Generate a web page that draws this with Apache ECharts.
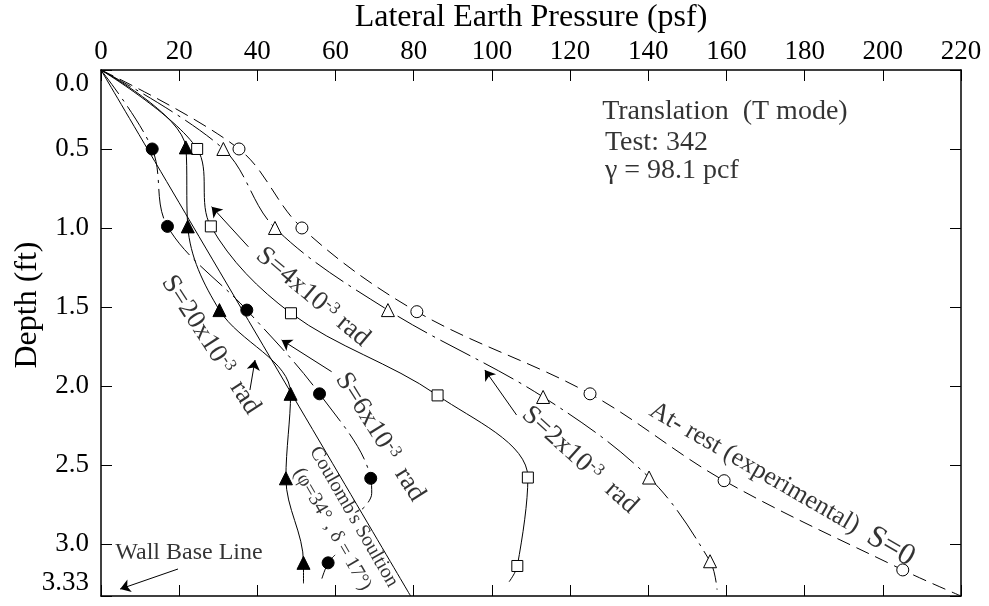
<!DOCTYPE html>
<html><head><meta charset="utf-8">
<script src="https://cdn.jsdelivr.net/npm/echarts@6/dist/echarts.min.js"></script>
<style>html,body{margin:0;padding:0;background:#fff}#c{width:989px;height:606px}</style>
</head><body><div id="c"></div>
<script>
const FONT = '"Liberation Serif","Times New Roman",serif';

// tick labels
const xTickValues = [0,20,40,60,80,100,120,140,160,180,200,220];
const xTickLabels = ['0','20','40','60','80','100','120','140','160','180','200','220'];
const yTickValues = [0,0.5,1,1.5,2,2.5,3,3.33];
const yTickLabels = ['0.0','0.5','1.0','1.5','2.0','2.5','3.0','3.33'];

// data: [lateral earth pressure (psf), depth (ft)]
const origin = [[0,0]];
const atRestMarkers = [[35.3,0.5],[51.4,1.0],[80.8,1.53],[125.1,2.05],[159.4,2.60],[205.1,3.165]];
const atRestTail = [[220,3.33]];
const s2Markers = [[31.3,0.5],[44.5,1.0],[73.4,1.52],[113.1,2.07],[140.2,2.58],[155.8,3.11]];
const s2Tail = [[157.6,3.29]];
const s4Markers = [[24.6,0.5],[28.1,0.99],[48.6,1.54],[86.1,2.06],[109.2,2.58],[106.5,3.14]];
const s4Tail = [[104.4,3.24]];
const s6Markers = [[13.1,0.5],[17.0,0.99],[37.3,1.52],[55.9,2.05],[69.0,2.585],[58.1,3.12]];
const s6MidTrace = [[69.25,2.68],[68.0,2.75],[66.3,2.79]];
const s6LowTrace = [[59.9,3.07]];
const s6Tail = [[56.5,3.22]];
const s20Markers = [[21.7,0.49],[22.2,0.99],[30.3,1.52],[48.5,2.05],[47.3,2.585],[51.8,3.12]];
const s20Tail = [[51.8,3.25]];
const coulombLine = [[0,0],[79.2,3.33]];

// annotation arrows: [tail, head]
const arrows = [
  [[37.7,1.119],[28.3,0.865]],
  [[106.3,2.184],[98.2,1.899]],
  [[59.0,1.910],[46.2,1.709]],
  [[38.1,2.026],[39.4,1.836]],
  [[19.7,3.159],[4.9,3.286]]
];

const GAP = ['-','-'];
const atRestPath = origin.concat(atRestMarkers, atRestTail);
const s2Path = origin.concat(s2Markers, s2Tail);
const s4Path = origin.concat(s4Markers, s4Tail);
const s6Path = origin.concat(s6Markers.slice(0,5), s6MidTrace, [GAP], s6LowTrace, s6Markers.slice(5), s6Tail);
const s20Path = origin.concat(s20Markers, s20Tail);

const RICH = {
  n: {fontFamily: FONT, fontSize: 27, color: '#000'},
  s: {fontFamily: FONT, fontSize: 17, color: '#000', verticalAlign: 'top'},
  m: {fontFamily: FONT, fontSize: 26, color: '#000'},
  b: {fontFamily: FONT, fontSize: 31, color: '#000'},
  c: {fontFamily: FONT, fontSize: 20, color: '#000', lineHeight: 25, align: 'center'},
  w: {fontFamily: FONT, fontSize: 24, color: '#000'},
  t: {fontFamily: FONT, fontSize: 28, color: '#000'}
};

const notes = [
  {at:[128.2,0.266], text:'{t|Translation  (T mode)}', align:'left', rot:0},
  {at:[128.9,0.462], text:'{t|Test: 342}', align:'left', rot:0},
  {at:[128.9,0.639], text:'{t|\u03b3 = 98.1 pcf}', align:'left', rot:0},
  {at:[54.2,1.437], text:'{n|S=4x10}{s|-3}{n| rad}', align:'center', rot:-40},
  {at:[122.5,2.469], text:'{n|S=2x10}{s|-3}{n|  rad}', align:'center', rot:-42},
  {at:[71.4,2.323], text:'{n|S=6x10}{s|-3}{n|  rad}', align:'center', rot:-58},
  {at:[28.1,1.741], text:'{n|S=20x10}{s|-3}{n|  rad}', align:'center', rot:-57},
  {at:[174.2,2.621], text:'{m|At- rest (experimental)  }{b|S=0}', align:'center', rot:-30},
  {at:[61.9,2.868], text:"{c|Coulomb's Soultion}\n{c|(\u03c6=34\u00b0 , \u03b4 = 17\u00b0)}", align:'center', rot:-60},
  {at:[22.5,3.058], text:'{w|Wall Base Line}', align:'center', rot:0}
];

function lineSeries(data, dash) {
  return {type:'line', data:data, symbol:'none', showSymbol:false, smooth:0.35, connectNulls:false,
    lineStyle:{color:'#000', width:1, type:dash}, silent:true, z:2, animation:false};
}
function markerSeries(data, symbol, filled, size) {
  return {type:'scatter', data:data, symbol:symbol, symbolSize:size, silent:true, z:5, animation:false,
    itemStyle:{color: filled ? '#000' : '#fff', borderColor:'#000', borderWidth:1, opacity:1}};
}

const axisLineStyle = {color:'#000', width:1.5};
const option = {
  animation: false,
  backgroundColor: '#fff',
  grid: {left:101, right:28, top:70, bottom:10, containLabel:false, outerBoundsMode:'none'},
  xAxis: [
    {type:'value', position:'top', min:0, max:220, interval:20,
     name:'Lateral Earth Pressure (psf)', nameLocation:'middle', nameGap:30,
     nameTextStyle:{fontFamily:FONT, fontSize:32, color:'#000'},
     axisLine:{show:true, onZero:false, lineStyle:axisLineStyle},
     axisTick:{show:true, inside:true, length:11, lineStyle:{color:'#000', width:1}},
     axisLabel:{show:true, margin:5, fontFamily:FONT, fontSize:27, color:'#000',
       formatter: v => { const i = xTickValues.indexOf(v); return i >= 0 ? xTickLabels[i] : String(v); }},
     splitLine:{show:false}},
    {type:'value', position:'bottom', min:0, max:220, interval:20,
     axisLine:{show:true, onZero:false, lineStyle:axisLineStyle},
     axisTick:{show:true, inside:true, length:11, lineStyle:{color:'#000', width:1}},
     axisLabel:{show:false}, splitLine:{show:false}}
  ],
  yAxis: [
    {type:'value', inverse:true, min:0, max:3.33, interval:0.5,
     axisLine:{show:true, onZero:false, lineStyle:axisLineStyle},
     axisTick:{show:true, inside:true, length:11, lineStyle:{color:'#000', width:1}},
     axisLabel:{show:true, margin:12, fontFamily:FONT, fontSize:27, color:'#000',
       verticalAlignMinLabel:'top', verticalAlignMaxLabel:'bottom',
       formatter: v => { let best = 0; yTickValues.forEach((t,i)=>{ if (Math.abs(t-v) < Math.abs(yTickValues[best]-v)) best = i; }); return yTickLabels[best]; }},
     splitLine:{show:false}},
    {type:'value', position:'right', inverse:true, min:0, max:3.33, interval:0.5,
     axisLine:{show:true, onZero:false, lineStyle:axisLineStyle},
     axisTick:{show:true, inside:true, length:11, lineStyle:{color:'#000', width:1}},
     axisLabel:{show:false}, splitLine:{show:false}}
  ],
  graphic: [
    {type:'text', x:28, y:305, rotation:Math.PI/2, silent:true,
     style:{text:'Depth (ft)', font:'32px "Liberation Serif", serif', fill:'#000',
       textAlign:'center', textVerticalAlign:'middle', align:'center', verticalAlign:'middle'}}
  ],
  series: [
    lineSeries(coulombLine, 'solid'),
    lineSeries(atRestPath, [14,7]),
    lineSeries(s2Path, [34,6,3,6]),
    lineSeries(s4Path, 'solid'),
    lineSeries(s6Path, [30,6,3,6]),
    lineSeries(s20Path, 'solid'),
    markerSeries(atRestMarkers, 'circle', false, 12),
    markerSeries(s2Markers, 'triangle', false, 13),
    markerSeries(s4Markers, 'rect', false, 11),
    markerSeries(s6Markers, 'circle', true, 12),
    markerSeries(s20Markers, 'triangle', true, 13),
    {type:'scatter', silent:true, z:6, animation:false, symbol:'circle', symbolSize:1,
     itemStyle:{color:'rgba(0,0,0,0)'},
     data: notes.map(n => ({value:n.at, label:{show:true, position:'inside', formatter:n.text, rich:RICH,
       rotate:n.rot, align:n.align, verticalAlign:'middle'}})),
     markLine:{silent:true, animation:false, symbol:['none','arrow'], symbolSize:10,
       label:{show:false}, lineStyle:{color:'#000', width:1, type:'solid'},
       itemStyle:{color:'#000'},
       emphasis:{disabled:true},
       data: arrows.map(a => [{coord:a[0]},{coord:a[1]}])}}
  ]
};

const chart = echarts.init(document.getElementById('c'), null, {renderer:'canvas'});
chart.setOption(option);
</script>
</body></html>
